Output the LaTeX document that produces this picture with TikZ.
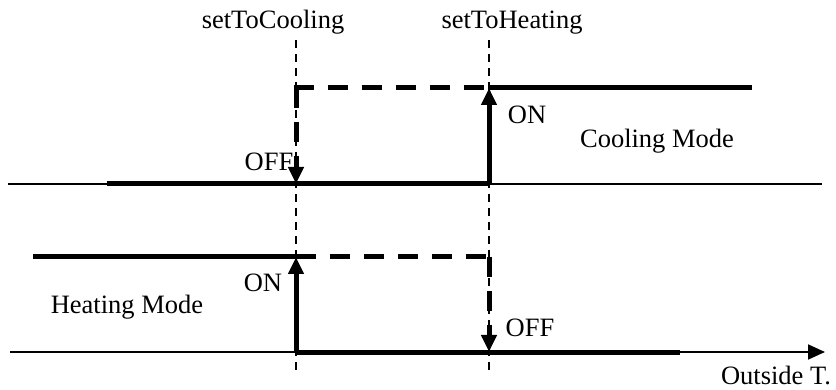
\documentclass[tikz,border=0pt]{standalone}
\usepackage{fontspec}
\setmainfont{Liberation Serif}
\usetikzlibrary{arrows.meta}
\begin{document}
\begin{tikzpicture}[x=1pt,y=-1pt,
  thinline/.style={line width=1.8pt},
  thickline/.style={line width=5pt},
  dashthick/.style={line width=5pt,dash pattern=on 20pt off 14pt},
  guide/.style={line width=1.8pt,dash pattern=on 8pt off 6pt},
  tip/.style={-{Triangle[length=17pt,width=15pt]}},
  lbl/.style={inner sep=0pt,anchor=base,font=\fontsize{26.5}{30}\selectfont}]
\useasboundingbox (0,0) rectangle (836,390);
% coordinates
\coordinate (ua0) at (8,184);
\coordinate (ua1) at (822,184);
\coordinate (la0) at (10,352);
\coordinate (la1) at (825,352);
\coordinate (c0) at (107,184);
\coordinate (cH) at (489,184);
\coordinate (cHt) at (489,88);
\coordinate (c1) at (752,88);
\coordinate (cCt) at (296,88);
\coordinate (cC) at (296,184);
\coordinate (h0) at (33,257);
\coordinate (hC) at (296,257);
\coordinate (hCb) at (296,352);
\coordinate (h1) at (680,352);
\coordinate (hHt) at (489,257);
\coordinate (hH) at (489,352);
\coordinate (g1a) at (296,40);
\coordinate (g1b) at (296,372);
\coordinate (g2a) at (489,40);
\coordinate (g2b) at (489,372);
% axes
\draw[thinline] (ua0) -- (ua1);
\draw[thinline,tip] (la0) -- (la1);
% cooling mode
\draw[thickline] (c0) -- (cH);
\draw[thickline] (cHt) -- (c1);
\draw[thickline,tip] (cH) -- (cHt);
\draw[dashthick] ([xshift=-2.5pt]cCt) -- (cHt);
\draw[dashthick] (cCt) -- ([yshift=14pt]cC);
\draw[thickline,tip] ([yshift=18pt]cC) -- (cC);
% heating mode
\draw[thickline] (h0) -- (hC);
\draw[thickline] (hCb) -- (h1);
\draw[thickline,tip] (hCb) -- (hC);
\draw[dashthick] (hC) -- (hHt);
\draw[dashthick] (hHt) -- ([yshift=14pt]hH);
\draw[thickline,tip] ([yshift=18pt]hH) -- (hH);
% guides
\draw[guide] (g1a) -- (g1b);
\draw[guide] (g2a) -- (g2b);
% labels
\node[lbl] (tC) at (273,29) {setToCooling};
\node[lbl] (tH) at (512,29) {setToHeating};
\node[lbl] (offU) at (269,171) {OFF};
\node[lbl] (onU) at (527,124) {ON};
\node[lbl] (cm) at (657,148) {Cooling Mode};
\node[lbl] (onL) at (263,291) {ON};
\node[lbl] (hm) at (127,314) {Heating Mode};
\node[lbl] (offL) at (530,337) {OFF};
\node[lbl] (ot) at (776,384) {Outside T.};
\end{tikzpicture}
\end{document}
